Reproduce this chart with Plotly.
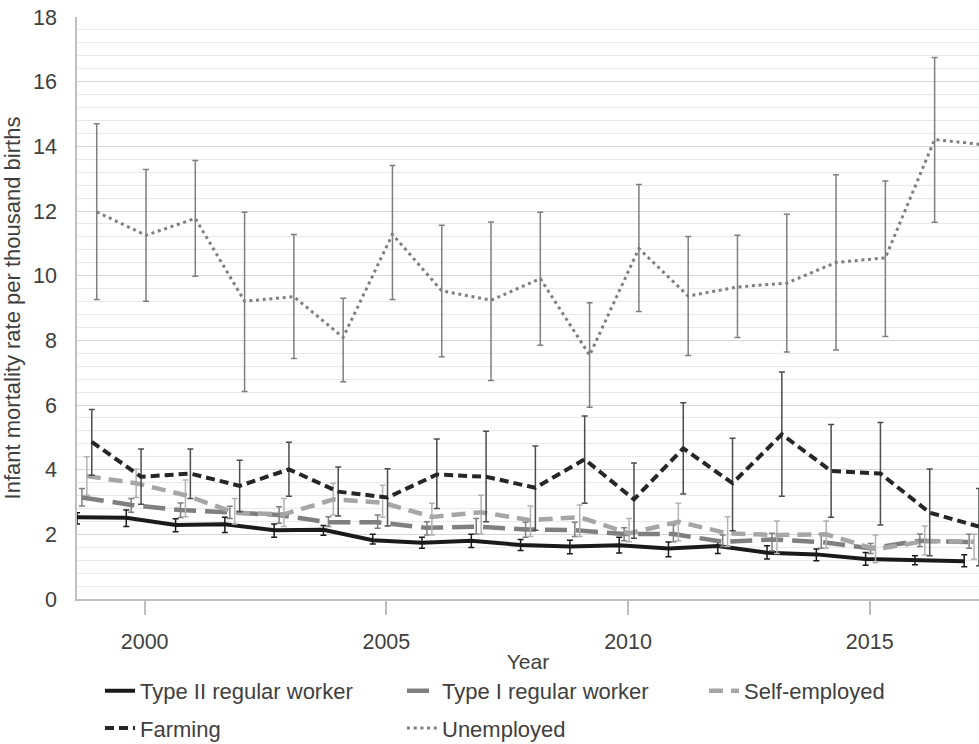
import plotly.graph_objects as go

# Infant mortality rate per thousand births by household occupation, 1999-2017
years = list(range(1999, 2018))

type2_rate = [2.53, 2.51, 2.29, 2.31, 2.13, 2.14, 1.82, 1.74, 1.80, 1.67, 1.62, 1.66, 1.56, 1.64, 1.43, 1.38, 1.24, 1.21, 1.17]
type2_upper = [2.67, 2.75, 2.48, 2.53, 2.32, 2.27, 2.00, 1.91, 2.00, 1.84, 1.82, 1.91, 1.76, 1.82, 1.65, 1.55, 1.44, 1.34, 1.37]
type2_lower = [2.32, 2.24, 2.08, 2.06, 1.91, 1.97, 1.70, 1.57, 1.59, 1.50, 1.40, 1.42, 1.31, 1.41, 1.24, 1.18, 1.04, 1.06, 1.00]

type1_rate = [3.14, 2.91, 2.75, 2.67, 2.60, 2.37, 2.37, 2.20, 2.24, 2.15, 2.13, 2.01, 2.01, 1.77, 1.84, 1.76, 1.57, 1.80, 1.76]
type1_upper = [3.42, 3.11, 2.97, 2.87, 2.85, 2.54, 2.60, 2.39, 2.49, 2.37, 2.37, 2.20, 2.29, 1.98, 2.03, 2.00, 1.72, 2.01, 2.00]
type1_lower = [2.88, 2.68, 2.52, 2.49, 2.34, 2.24, 2.19, 1.98, 2.01, 1.91, 1.93, 1.80, 1.77, 1.62, 1.49, 1.57, 1.41, 1.62, 1.57]

self_rate = [3.80, 3.58, 3.21, 2.67, 2.62, 3.08, 2.98, 2.54, 2.68, 2.44, 2.53, 2.03, 2.39, 2.03, 1.98, 2.00, 1.54, 1.79, 1.77]
self_upper = [4.40, 4.01, 3.68, 3.11, 3.11, 3.58, 3.52, 2.96, 3.21, 2.88, 2.91, 2.49, 2.96, 2.54, 2.41, 2.41, 1.98, 2.26, 2.00]
self_lower = [3.21, 3.14, 2.54, 2.32, 2.24, 2.60, 2.53, 1.98, 2.01, 1.93, 1.93, 1.77, 1.80, 1.62, 1.41, 1.57, 1.12, 1.36, 1.23]

farming_rate = [4.86, 3.78, 3.88, 3.50, 4.01, 3.32, 3.14, 3.85, 3.78, 3.44, 4.32, 3.08, 4.66, 3.58, 5.09, 3.96, 3.88, 2.67, 2.24]
farming_upper = [5.86, 4.64, 4.64, 4.29, 4.85, 4.08, 4.03, 4.95, 5.19, 4.73, 5.66, 4.21, 6.07, 4.97, 7.02, 5.40, 5.46, 4.02, 3.42]
farming_lower = [3.83, 2.93, 3.11, 2.70, 3.18, 2.57, 2.26, 2.80, 2.39, 2.13, 2.96, 1.88, 3.25, 2.11, 3.18, 2.53, 2.29, 1.34, 1.03]

unemployed_rate = [11.97, 11.25, 11.77, 9.21, 9.35, 8.09, 11.28, 9.53, 9.24, 9.91, 7.54, 10.84, 9.37, 9.65, 9.77, 10.41, 10.55, 14.21, 14.05]
unemployed_upper = [14.70, 13.28, 13.56, 11.96, 11.27, 9.30, 13.41, 11.56, 11.66, 11.96, 9.16, 12.82, 11.21, 11.25, 11.90, 13.12, 12.93, 16.75, 16.60]
unemployed_lower = [9.26, 9.21, 9.98, 6.42, 7.44, 6.72, 9.26, 7.49, 6.76, 7.85, 5.93, 8.89, 7.53, 8.09, 7.64, 7.70, 8.12, 11.65, 11.50]

year_ticks = [2000, 2005, 2010, 2015]

# series drawn with a small horizontal shift so the error bars do not overlap
series = [
    dict(name="Type II regular worker", rate=type2_rate, hi=type2_upper, lo=type2_lower,
         shift=-0.4, color="#1a1a1a", bar="#1a1a1a", width=4, dash="solid", legend="legend"),
    dict(name="Type I regular worker", rate=type1_rate, hi=type1_upper, lo=type1_lower,
         shift=-0.3, color="#7f7f7f", bar="#7f7f7f", width=4.5, dash="22px,9px", legend="legend"),
    dict(name="Self-employed", rate=self_rate, hi=self_upper, lo=self_lower,
         shift=-0.2, color="#a6a6a6", bar="#b3b3b3", width=4.5, dash="14px,8px", legend="legend"),
    dict(name="Farming", rate=farming_rate, hi=farming_upper, lo=farming_lower,
         shift=-0.1, color="#262626", bar="#4d4d4d", width=4, dash="9px,5px", legend="legend2"),
    dict(name="Unemployed", rate=unemployed_rate, hi=unemployed_upper, lo=unemployed_lower,
         shift=0.0, color="#7f7f7f", bar="#7f7f7f", width=3, dash="3px,3.7px", legend="legend2"),
]

fig = go.Figure()
for s in series:
    fig.add_trace(go.Scatter(
        x=[y + s["shift"] for y in years],
        y=s["rate"],
        name=s["name"],
        mode="lines",
        line=dict(color=s["color"], width=s["width"], dash=s["dash"]),
        error_y=dict(
            type="data",
            symmetric=False,
            array=[h - v for h, v in zip(s["hi"], s["rate"])],
            arrayminus=[v - l for v, l in zip(s["rate"], s["lo"])],
            color=s["bar"], thickness=1.5, width=3,
        ),
        legend=s["legend"],
    ))

# empty trace that registers the year axis carrying the tick labels
fig.add_trace(go.Scatter(x=[], y=[], xaxis="x2", yaxis="y", showlegend=False,
                         hoverinfo="skip", mode="lines"))

FONT = "Liberation Sans, Arial, sans-serif"
TEXT = "#404040"
AXIS = "#bfbfbf"

legend_common = dict(
    orientation="h", xanchor="left", x=0.0255, yanchor="middle",
    entrywidth=257, entrywidthmode="pixels",
    font=dict(family=FONT, size=22, color=TEXT),
    bgcolor="rgba(0,0,0,0)", itemwidth=30,
)

fig.update_layout(
    width=979, height=744,
    margin=dict(l=77, r=0, t=17, b=145, pad=0, autoexpand=False),
    plot_bgcolor="white", paper_bgcolor="white",
    font=dict(family=FONT, color=TEXT),
    showlegend=True,
    legend=dict(legend_common, y=-0.158),
    legend2=dict(legend_common, y=-0.222),
    xaxis=dict(
        range=[1998.6, 2016.9],
        showticklabels=False, ticks="", showgrid=False, zeroline=False,
        showline=True, linecolor=AXIS, linewidth=1.5,
    ),
    xaxis2=dict(
        overlaying="x", anchor="y", side="bottom",
        range=[1998.6, 2017.26],
        tickvals=year_ticks, ticktext=[str(t) for t in year_ticks],
        ticks="outside", ticklen=15, tickwidth=1.5, tickcolor=AXIS,
        showgrid=False, zeroline=False, showline=False,
        tickfont=dict(family=FONT, size=21.5, color=TEXT),
        ticklabelstandoff=8,
        title=dict(text="Year", font=dict(family=FONT, size=21, color=TEXT), standoff=1),
    ),
    yaxis=dict(
        range=[0, 18], dtick=2, tick0=0,
        ticks="", showline=True, linecolor=AXIS, linewidth=1.5,
        showgrid=True, gridcolor="#d6d6d6", gridwidth=1.3, zeroline=False,
        minor=dict(dtick=0.4, tick0=0, showgrid=True, gridcolor="#e9e9e9", gridwidth=1),
        tickfont=dict(family=FONT, size=21.5, color=TEXT),
        ticklabelstandoff=14,
        title=dict(text="Infant mortality rate per thousand births",
                   font=dict(family=FONT, size=22, color=TEXT), standoff=6),
    ),
)

fig.write_html("out.html")
